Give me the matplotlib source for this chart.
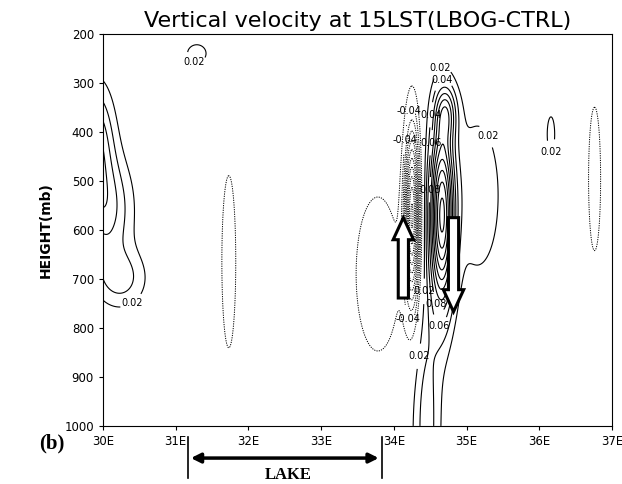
import numpy as np
import matplotlib
matplotlib.use("Agg")
import matplotlib.pyplot as plt
from matplotlib.patches import FancyArrow

# Cells of the difference field:
# centre longitude, centre pressure, peak value, half-width (deg), half-depth (mb)
cell_lon = [29.90, 30.05, 30.25, 31.29, 31.73, 33.78, 34.25, 34.66, 34.72, 34.45, 35.15, 36.16, 36.76]
cell_p = [420, 560, 700, 240, 665, 690, 570, 570, 360, 1000, 530, 405, 496]
cell_amp = [0.075, 0.065, 0.045, 0.03, -0.03, -0.035, -0.22, 0.22, 0.07, 0.05, 0.033, 0.03, -0.03]
cell_wx = [0.25, 0.35, 0.35, 0.20, 0.15, 0.40, 0.10, 0.17, 0.15, 0.20, 0.40, 0.08, 0.13]
cell_wp = [115, 110, 60, 28, 276, 210, 170, 185, 55, 250, 200, 56, 230]

lon_ticks = [30, 31, 32, 33, 34, 35, 36, 37]
lon_labels = ['30E', '31E', '32E', '33E', '34E', '35E', '36E', '37E']
p_ticks = [200, 300, 400, 500, 600, 700, 800, 900, 1000]

# where the contour labels sit
pos_label_at = [(30.45, 760), (31.25, 258), (34.6, 262), (34.62, 285), (34.5, 365),
                (34.5, 422), (34.5, 518), (34.28, 725), (34.58, 752), (34.6, 800),
                (34.3, 857), (35.5, 392), (36.2, 450)]
neg_label_at = [(34.05, 350), (34.05, 416), (34.02, 790)]

lon = np.linspace(30, 37, 701)
p = np.linspace(200, 1000, 321)
LON, P = np.meshgrid(lon, p)
w = np.zeros_like(LON)
for x0, p0, a, sx, sp in zip(cell_lon, cell_p, cell_amp, cell_wx, cell_wp):
    w += a * np.exp(-((LON - x0) / sx) ** 2 - ((P - p0) / sp) ** 2)

step = 0.02
pos_lab = [0.02, 0.04, 0.06, 0.08]
neg_lab = [-0.08, -0.04]
pos_rest = np.arange(0.10, 0.42, step)
neg_rest = [v for v in -np.arange(0.02, 0.42, step)[::-1] if not np.isclose(v, neg_lab).any()]

fig = plt.figure(figsize=(6.22, 4.84), dpi=100)
ax = fig.add_axes([0.1656, 0.12, 0.8184, 0.81])

dots = [(0, (1.2, 1.2))]
ax.contour(LON, P, w, levels=neg_rest, colors='black', linewidths=0.7, linestyles=dots)
cn = ax.contour(LON, P, w, levels=neg_lab, colors='black', linewidths=0.7, linestyles=dots)
ax.contour(LON, P, w, levels=pos_rest, colors='black', linewidths=0.8, linestyles='solid')
cp = ax.contour(LON, P, w, levels=pos_lab, colors='black', linewidths=0.8, linestyles='solid')
labels = ax.clabel(cp, fmt='%.2f', fontsize=7, inline=True, inline_spacing=2,
                   manual=pos_label_at)
labels += ax.clabel(cn, fmt='%.2f', fontsize=7, inline=True, inline_spacing=2,
                    manual=neg_label_at)
for t in labels:
    t.set_rotation(0)

# hollow arrows (up / down motion)
for x0, y0, dy in [(34.13, 739, -164), (34.82, 575, 192)]:
    ax.add_patch(FancyArrow(x0, y0, 0, dy, width=0.14, head_width=0.28,
                            head_length=45, length_includes_head=True,
                            facecolor='white', edgecolor='black', lw=2.2, zorder=5))

ax.set_xlim(30, 37)
ax.set_ylim(1000, 200)
ax.set_xticks(lon_ticks)
ax.set_xticklabels(lon_labels)
ax.set_yticks(p_ticks)
ax.tick_params(labelsize=8.5, length=3)
ax.set_ylabel('HEIGHT(mb)', fontsize=10, fontweight='bold', labelpad=8)
ax.set_title('Vertical velocity at 15LST(LBOG-CTRL)', fontsize=16, pad=5)

# lake extent below the axis
tr = ax.get_xaxis_transform()
ax.annotate('', xy=(31.17, -0.082), xytext=(33.83, -0.082), xycoords=tr, textcoords=tr,
            arrowprops=dict(arrowstyle='<|-|>', lw=2.5, color='black', mutation_scale=14),
            annotation_clip=False)
for xl in [31.17, 33.83]:
    ax.plot([xl, xl], [-0.028, -0.133], transform=tr, color='black', lw=1.2, clip_on=False)
ax.text(32.55, -0.125, 'LAKE', transform=tr, ha='center', va='center',
        fontsize=12, fontweight='bold', family='Liberation Serif')
ax.text(-0.1, -0.045, '(b)', transform=ax.transAxes, ha='center', va='center',
        fontsize=15, fontweight='bold', family='Liberation Serif')

fig.savefig('out.png', dpi=100)
